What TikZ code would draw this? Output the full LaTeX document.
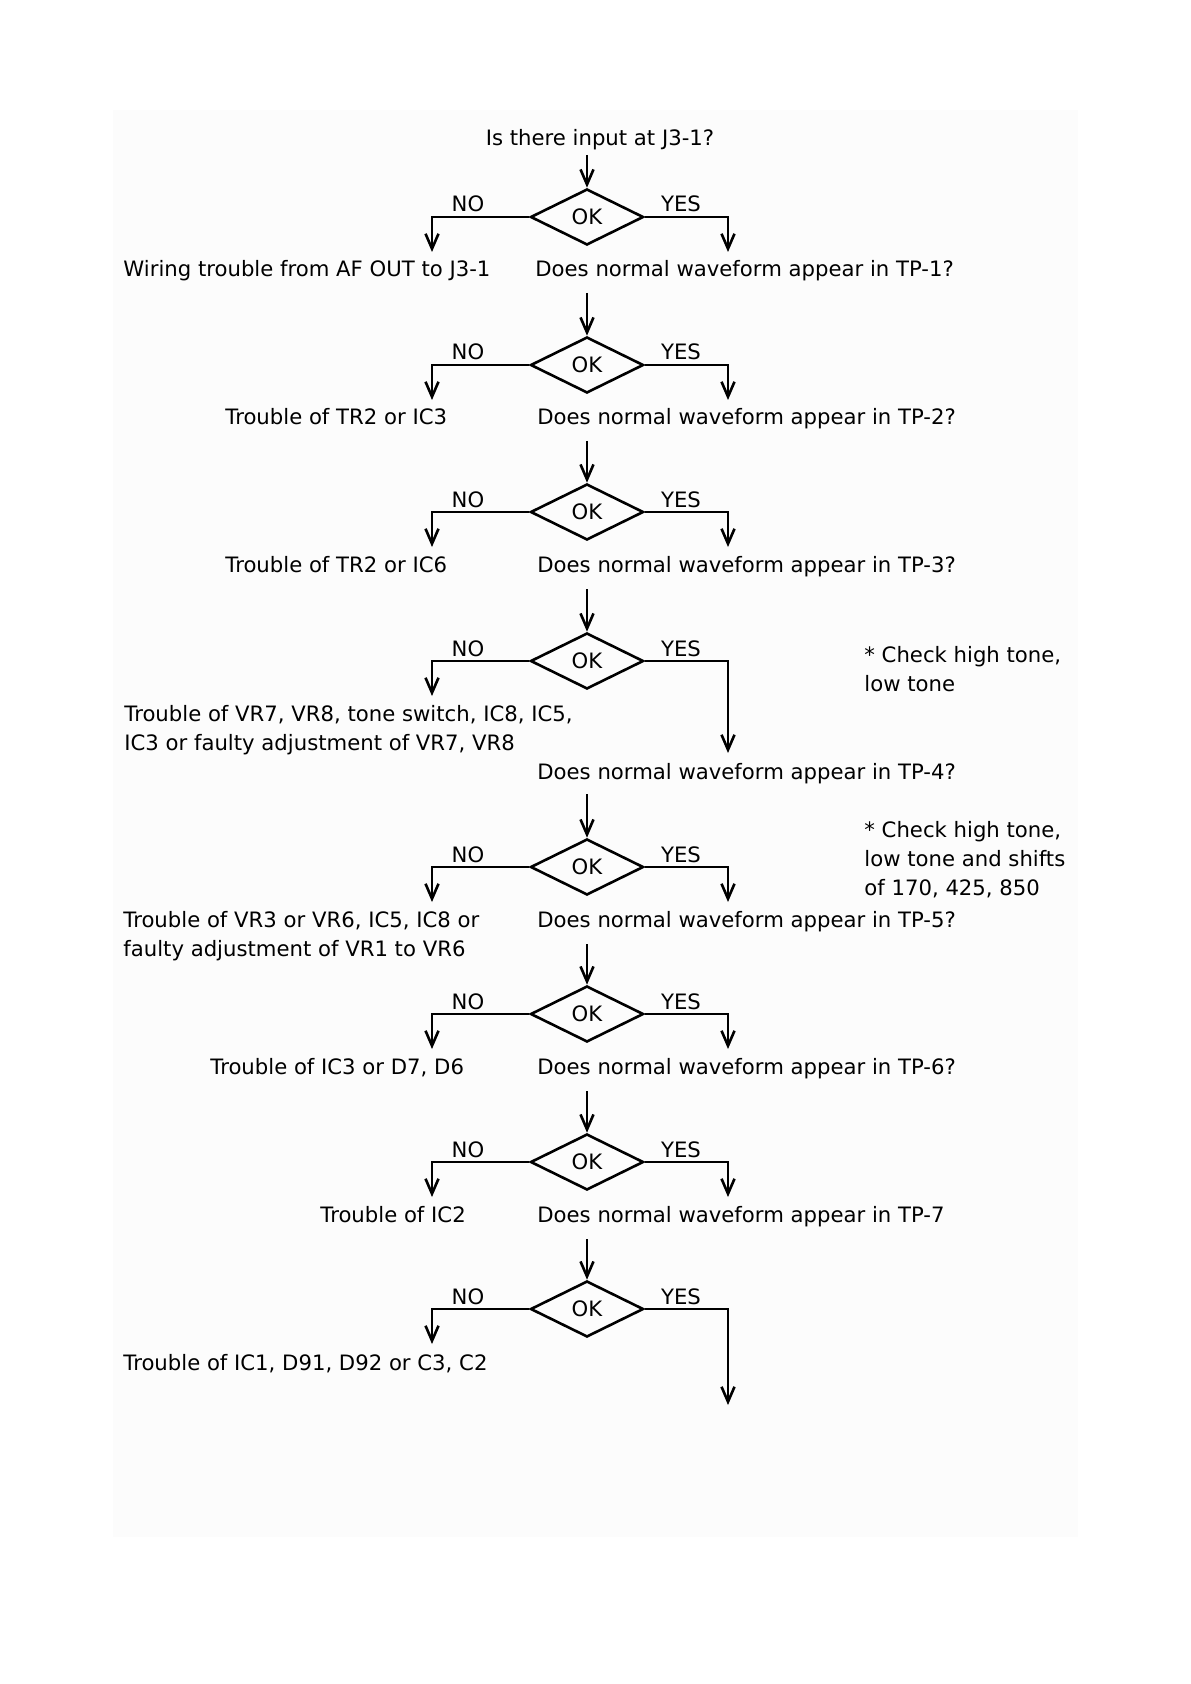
\documentclass[tikz,border=0pt]{standalone}
\usepackage{fontspec}
\setmainfont{DejaVu Sans}
\usetikzlibrary{shapes.geometric,arrows.meta,calc}
\begin{document}
\begin{tikzpicture}[x=0.5pt,y=-0.5pt,
  every node/.style={font=\fontsize{10.6pt}{14.5pt}\selectfont, inner sep=0pt},
  line/.style={line width=1.3pt},
  arr/.style={line, -{Straight Barb[length=7.5pt,width=6.5pt]}},
  okbox/.style={diamond, draw, line width=1.3pt, minimum width=56.5pt, minimum height=28pt, inner sep=0pt},
  txt/.style={anchor=west, text height=8pt, text depth=2.5pt},
  mtxt/.style={anchor=west, align=left},
  lab/.style={text height=8pt, text depth=0pt},
]
\useasboundingbox (0,0) rectangle (1190,1684);
\fill[black!1] (113,110) rectangle (1078,1537);

% title
\node[txt, anchor=center] (q0) at (600,140) {Is there input at J3-1?};

% diamonds
\node[okbox] (d1) at (587,217) {OK};
\node[okbox] (d2) at (587,365) {OK};
\node[okbox] (d3) at (587,512) {OK};
\node[okbox] (d4) at (587,661) {OK};
\node[okbox] (d5) at (587,867) {OK};
\node[okbox] (d6) at (587,1014) {OK};
\node[okbox] (d7) at (587,1162) {OK};
\node[okbox] (d8) at (587,1309) {OK};

% NO / YES labels
\foreach \i/\y in {1/217,2/365,3/512,4/661,5/867,6/1014,7/1162,8/1309}{
  \node[lab] (no\i) at (468,\y-13) {NO};
  \node[lab] (yes\i) at (681,\y-13) {YES};
}

% NO texts
\node[txt] (n1) at (123,271) {Wiring trouble from AF OUT to J3-1};
\node[txt] (n2) at (225,419) {Trouble of TR2 or IC3};
\node[txt] (n3) at (225,567) {Trouble of TR2 or IC6};
\node[mtxt] (n4) at (124,730) {Trouble of VR7, VR8, tone switch, IC8, IC5,\\IC3 or faulty adjustment of VR7, VR8};
\node[mtxt] (n5) at (123,936.5) {Trouble of VR3 or VR6, IC5, IC8 or\\faulty adjustment of VR1 to VR6};
\node[txt] (n6) at (210,1069) {Trouble of IC3 or D7, D6};
\node[txt] (n7) at (320,1217) {Trouble of IC2};
\node[txt] (n8) at (123,1365) {Trouble of IC1, D91, D92 or C3, C2};

% YES texts (questions)
\node[txt] (q1) at (535,271) {Does normal waveform appear in TP-1?};
\node[txt] (q2) at (537,419) {Does normal waveform appear in TP-2?};
\node[txt] (q3) at (537,567) {Does normal waveform appear in TP-3?};
\node[txt] (q4) at (537,774) {Does normal waveform appear in TP-4?};
\node[txt] (q5) at (537,922) {Does normal waveform appear in TP-5?};
\node[txt] (q6) at (537,1069) {Does normal waveform appear in TP-6?};
\node[txt] (q7) at (537,1217) {Does normal waveform appear in TP-7};

% notes
\node[mtxt] (note1) at (864,669.5) {* Check high tone,\\low tone};
\node[mtxt] (note2) at (864,860) {* Check high tone,\\low tone and shifts\\of 170, 425, 850};

% arrow end points
\foreach \i/\y in {1/217,2/365,3/512,4/661,5/867,6/1014,7/1162,8/1309}{
  \coordinate (nt\i) at (432,\y+35);
}
\coordinate (yt1) at (728,252);
\coordinate (yt2) at (728,400);
\coordinate (yt3) at (728,547);
\coordinate (yt4) at (728,753);
\coordinate (yt5) at (728,902);
\coordinate (yt6) at (728,1049);
\coordinate (yt7) at (728,1197);
\coordinate (yt8) at (728,1405);

% connectors
\draw[arr] ($(q0.center -| d1.north)+(0,15)$) -- (d1.north);
\draw[arr] ($(q1.center -| d2.north)+(0,22)$) -- (d2.north);
\draw[arr] ($(q2.center -| d3.north)+(0,22)$) -- (d3.north);
\draw[arr] ($(q3.center -| d4.north)+(0,22)$) -- (d4.north);
\draw[arr] ($(q4.center -| d5.north)+(0,20)$) -- (d5.north);
\draw[arr] ($(q5.center -| d6.north)+(0,22)$) -- (d6.north);
\draw[arr] ($(q6.center -| d7.north)+(0,22)$) -- (d7.north);
\draw[arr] ($(q7.center -| d8.north)+(0,22)$) -- (d8.north);

\foreach \i in {1,...,8}{
  \draw[arr] (d\i.west) -| (nt\i);
  \draw[arr] (d\i.east) -| (yt\i);
}
\end{tikzpicture}
\end{document}
